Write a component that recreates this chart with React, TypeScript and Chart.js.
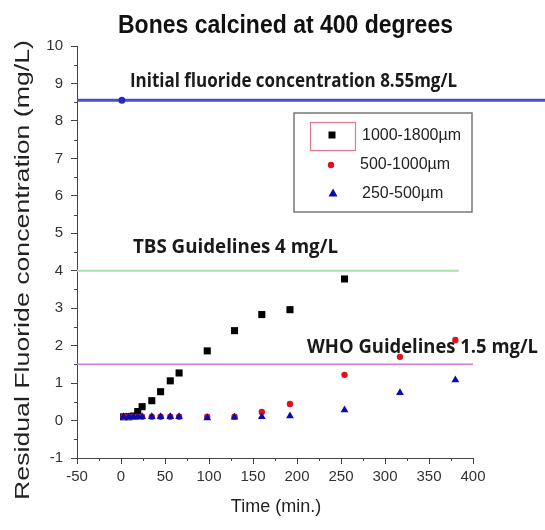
import React, { useEffect, useRef } from "react";
import { Chart, registerables } from "chart.js";

Chart.register(...registerables);

// ---- data (x positions) ----
const times = [3, 9, 14, 19, 24, 35, 45, 56, 66, 98, 129, 160, 192, 254, 317, 380];
const coarse = [0.1, 0.1, 0.12, 0.24, 0.37, 0.53, 0.77, 1.06, 1.27, 1.86, 2.4, 2.83, 2.96, 3.78, null, null];
const medium = [0.1, 0.1, 0.1, 0.1, 0.1, 0.1, 0.1, 0.1, 0.1, 0.1, 0.1, 0.23, 0.44, 1.22, 1.7, 2.15];
const fine = [0.1, 0.1, 0.1, 0.1, 0.1, 0.1, 0.1, 0.1, 0.1, 0.07, 0.09, 0.1, 0.12, 0.28, 0.74, 1.08];
const seriesLabels = ["1000-1800µm", "500-1000µm", "250-500µm"];
const initialPoint = [{ x: 1, y: 8.55 }];
const initialLine = [{ x: -50, y: 8.55 }, { x: 485, y: 8.55 }];
const tbsLine = [{ x: -50, y: 4 }, { x: 384, y: 4 }];
const whoLine = [{ x: -50, y: 1.5 }, { x: 400, y: 1.5 }];
const xTicks = [-50, 0, 50, 100, 150, 200, 250, 300, 350, 400];
const yTicks = [-1, 0, 1, 2, 3, 4, 5, 6, 7, 8, 9, 10];

const titleText = "Bones calcined at 400 degrees";
const xTitle = "Time (min.)";
const yTitle = "Residual Fluoride concentration (mg/L)";
const initialText = "Initial fluoride concentration 8.55mg/L";
const tbsText = "TBS Guidelines 4 mg/L";
const whoText = "WHO Guidelines 1.5 mg/L";

const toPts = (vals: (number | null)[]) =>
  times.map((t, i) => ({ x: t, y: vals[i] })).filter((p) => p.y !== null);

function drawFit(ctx: CanvasRenderingContext2D, text: string, x: number, y: number, w: number, font: string, color: string) {
  ctx.save();
  ctx.font = font;
  ctx.fillStyle = color;
  ctx.textBaseline = "alphabetic";
  ctx.textAlign = "left";
  const m = ctx.measureText(text).width;
  const s = w / m;
  ctx.translate(x, y);
  ctx.scale(s, 1);
  ctx.fillText(text, 0, 0);
  ctx.restore();
}

function sym(ctx: CanvasRenderingContext2D, kind: string, x: number, y: number, color: string) {
  ctx.save();
  ctx.fillStyle = color;
  ctx.beginPath();
  if (kind === "rect") {
    ctx.rect(x - 3.5, y - 3.5, 7, 7);
  } else if (kind === "circle") {
    ctx.arc(x, y, 3.2, 0, Math.PI * 2);
  } else {
    ctx.moveTo(x, y - 4.5);
    ctx.lineTo(x + 4.5, y + 3.5);
    ctx.lineTo(x - 4.5, y + 3.5);
    ctx.closePath();
  }
  ctx.fill();
  ctx.restore();
}

const decorPlugin = {
  id: "decor",
  beforeDatasetsDraw(chart: any) {
    const ctx = chart.ctx as CanvasRenderingContext2D;
    const bold = "bold 20px 'Open Sans', 'Liberation Sans', sans-serif";
    drawFit(ctx, initialText, 130, 87, 327, bold, "#1a1a1a");
    drawFit(ctx, tbsText, 133, 253, 205, bold, "#1a1a1a");
    drawFit(ctx, whoText, 307, 353, 231, bold, "#1a1a1a");
  },
  afterDraw(chart: any) {
    const ctx = chart.ctx as CanvasRenderingContext2D;
    const xs = chart.scales.x;
    const ys = chart.scales.y;
    const area = chart.chartArea;
    // minor ticks
    ctx.save();
    ctx.strokeStyle = "#444";
    ctx.lineWidth = 1;
    ctx.beginPath();
    for (let v = -25; v < 400; v += 50) {
      const px = Math.round(xs.getPixelForValue(v)) + 0.5;
      ctx.moveTo(px, area.bottom);
      ctx.lineTo(px, area.bottom + 3);
    }
    for (let v = -0.5; v < 10; v += 1) {
      const py = Math.round(ys.getPixelForValue(v)) + 0.5;
      ctx.moveTo(area.left, py);
      ctx.lineTo(area.left - 3, py);
    }
    ctx.stroke();
    ctx.restore();

    // title
    drawFit(ctx, titleText, 118, 33, 335, "bold 25px 'Liberation Sans', Arial, sans-serif", "#111");

    // x title
    ctx.save();
    ctx.font = "18px 'Liberation Sans', Arial, sans-serif";
    ctx.fillStyle = "#222";
    ctx.textAlign = "center";
    ctx.textBaseline = "alphabetic";
    ctx.fillText(xTitle, 276, 512);
    ctx.restore();

    // y title
    ctx.save();
    ctx.translate(29, 500);
    ctx.rotate(-Math.PI / 2);
    drawFit(ctx, yTitle, 0, 0, 460, "20px 'Liberation Sans', Arial, sans-serif", "#222");
    ctx.restore();

    // legend
    ctx.save();
    ctx.fillStyle = "#fff";
    ctx.fillRect(294, 113, 178, 99);
    ctx.strokeStyle = "#777";
    ctx.lineWidth = 1.5;
    ctx.strokeRect(294, 113, 178, 99);
    ctx.strokeStyle = "#e27a8a";
    ctx.lineWidth = 1.2;
    ctx.strokeRect(310.5, 122.5, 45, 28);
    ctx.restore();
    sym(ctx, "rect", 332, 135, "#000");
    sym(ctx, "circle", 331, 165, "#e0101e");
    sym(ctx, "tri", 333, 193, "#0a0ab4");
    ctx.save();
    ctx.font = "16px 'Liberation Sans', Arial, sans-serif";
    ctx.fillStyle = "#222";
    ctx.textBaseline = "alphabetic";
    ctx.fillText(seriesLabels[0], 362, 140);
    ctx.fillText(seriesLabels[1], 360, 169);
    ctx.fillText(seriesLabels[2], 362, 198);
    ctx.restore();
  },
};

export default function App() {
  const ref = useRef<HTMLCanvasElement | null>(null);
  useEffect(() => {
    if (!ref.current) return;
    const chart = new Chart(ref.current, {
      type: "scatter",
      data: {
        datasets: [
          {
            label: "initial-line",
            data: initialLine,
            showLine: true,
            borderColor: "#4b4bd2",
            borderWidth: 3,
            pointRadius: 0,
            clip: false as any,
            order: 10,
          },
          {
            label: "tbs-line",
            data: tbsLine,
            showLine: true,
            borderColor: "#a6e2a6",
            borderWidth: 2,
            pointRadius: 0,
            order: 10,
          },
          {
            label: "who-line",
            data: whoLine,
            showLine: true,
            borderColor: "#d27ad2",
            borderWidth: 1.5,
            pointRadius: 0,
            order: 10,
          },
          {
            label: seriesLabels[0],
            data: toPts(coarse),
            pointStyle: "rect",
            pointRadius: 5,
            backgroundColor: "#000",
            borderColor: "#000",
            borderWidth: 0,
            order: 3,
          },
          {
            label: seriesLabels[1],
            data: toPts(medium),
            pointStyle: "circle",
            pointRadius: 3.2,
            backgroundColor: "#e0101e",
            borderColor: "#e0101e",
            borderWidth: 0,
            order: 2,
          },
          {
            label: seriesLabels[2],
            data: toPts(fine),
            pointStyle: "triangle",
            pointRadius: 4.5,
            backgroundColor: "#0a0ab4",
            borderColor: "#0a0ab4",
            borderWidth: 0,
            order: 1,
          },
          {
            label: "initial",
            data: initialPoint,
            pointStyle: "circle",
            pointRadius: 3.5,
            backgroundColor: "#2a2ab8",
            borderColor: "#2a2ab8",
            borderWidth: 0,
            order: 0,
          },
        ],
      },
      options: {
        animation: false,
        responsive: false,
        devicePixelRatio: 1,
        layout: { padding: { top: 46, right: 72, left: 0, bottom: 0 } },
        plugins: {
          legend: { display: false },
          tooltip: { enabled: false },
          title: { display: false },
        },
        scales: {
          x: {
            type: "linear",
            min: -50,
            max: 400,
            afterFit: (s: any) => {
              s.height = 72;
            },
            afterBuildTicks: (s: any) => {
              s.ticks = xTicks.map((v) => ({ value: v }));
            },
            ticks: {
              autoSkip: false,
              maxRotation: 0,
              padding: 4,
              color: "#333",
              font: { family: "'Liberation Sans', Arial, sans-serif", size: 15 },
            },
            grid: { display: true, drawOnChartArea: false, drawTicks: true, tickLength: 6, color: "#444" },
            border: { display: true, color: "#444", width: 1 },
          },
          y: {
            type: "linear",
            min: -1,
            max: 10,
            afterFit: (s: any) => {
              s.width = 77;
            },
            afterBuildTicks: (s: any) => {
              s.ticks = yTicks.map((v) => ({ value: v }));
            },
            ticks: {
              autoSkip: false,
              padding: 8,
              color: "#333",
              font: { family: "'Liberation Sans', Arial, sans-serif", size: 15 },
            },
            grid: { display: true, drawOnChartArea: false, drawTicks: true, tickLength: 6, color: "#444" },
            border: { display: true, color: "#444", width: 1 },
          },
        },
      },
      plugins: [decorPlugin],
    });
    return () => chart.destroy();
  }, []);
  return (
    <div style={{ position: "absolute", left: 0, top: 0, width: 545, height: 530, background: "#fff" }}>
      <canvas ref={ref} width={545} height={530} style={{ width: 545, height: 530, display: "block" }} />
    </div>
  );
}
